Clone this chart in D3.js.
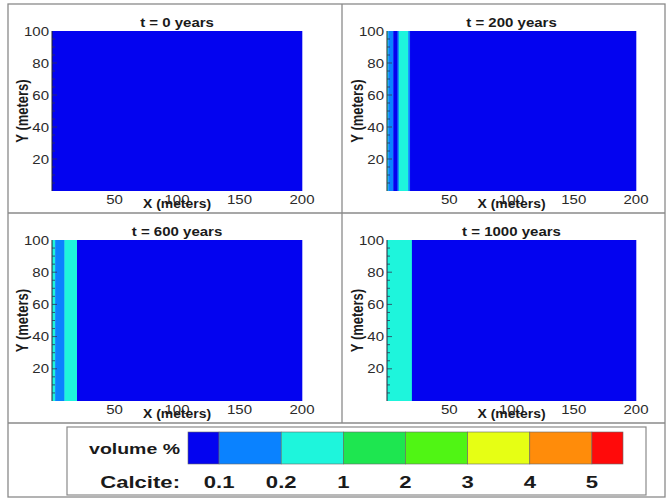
<!DOCTYPE html>
<html>
<head>
<meta charset="utf-8">
<script src="https://cdn.jsdelivr.net/npm/d3@7"></script>
<style>
  body { margin: 0; background: #fff; }
  text { font-family: "Liberation Sans", Arial, sans-serif; }
</style>
</head>
<body>
<svg width="667" height="499"></svg>
<script>
// panel titles and calcite zones along x (x0, x1 in meters, volume %)
const panelTitles = ["t = 0 years", "t = 200 years", "t = 600 years", "t = 1000 years"];
const zones0 = [[0, 200, 0.05]];
const zones200 = [[0, 1, 0.5], [1, 5, 0.15], [5, 8.5, 0.05], [8.5, 9.5, 0.15], [9.5, 17, 0.5], [17, 18.5, 0.15], [18.5, 200, 0.05]];
const zones600 = [[0, 2.5, 0.5], [2.5, 10, 0.15], [10, 20, 0.5], [20, 200, 0.05]];
const zones1000 = [[0, 20, 0.5], [20, 200, 0.05]];

const thresholds = [0.1, 0.2, 1, 2, 3, 4, 5];
const thresholdLabels = ["0.1", "0.2", "1", "2", "3", "4", "5"];
const levelColors = ["#0303f0", "#0a82ff", "#1ef5dc", "#1ee650", "#50f514", "#e6ff14", "#ff8c0a", "#ff0a0a"];

const xTicks = [50, 100, 150, 200];
const yTicks = [20, 40, 60, 80, 100];
const yMinor = d3.range(5, 100, 5);

const svg = d3.select("svg");
const color = d3.scaleThreshold().domain(thresholds).range(levelColors);

// frame lines
const frame = svg.append("g").attr("fill", "none").attr("stroke", "#8a8a8a").attr("stroke-width", 1.3);
frame.append("rect").attr("x", 8).attr("y", 4).attr("width", 657).attr("height", 493);
frame.append("line").attr("x1", 342).attr("x2", 342).attr("y1", 4).attr("y2", 423);
frame.append("line").attr("x1", 8).attr("x2", 665).attr("y1", 213).attr("y2", 213);
frame.append("line").attr("x1", 8).attr("x2", 665).attr("y1", 423).attr("y2", 423);

const panels = [
  { zones: zones0, left: 52, top: 31, w: 250, h: 160 },
  { zones: zones200, left: 387, top: 31, w: 249, h: 160 },
  { zones: zones600, left: 52, top: 240, w: 250, h: 161 },
  { zones: zones1000, left: 387, top: 240, w: 249, h: 161 }
];

const sx = 1.25; // glyphs in the picture are a little wide

panels.forEach((p, i) => {
  const g = svg.append("g").attr("transform", `translate(${p.left},${p.top})`);
  const x = d3.scaleLinear().domain([0, 200]).range([0, p.w]);
  const y = d3.scaleLinear().domain([0, 100]).range([p.h, 0]);

  g.selectAll("rect.zone")
    .data(p.zones)
    .enter()
    .append("rect")
    .attr("class", "zone")
    .attr("x", (d) => x(d[0]))
    .attr("width", (d) => x(d[1]) - x(d[0]) + 0.3)
    .attr("y", y(100))
    .attr("height", y(0) - y(100))
    .attr("fill", (d) => color(d[2]));

  // left axis with small inward ticks
  g.append("line").attr("x1", 0).attr("x2", 0).attr("y1", 0).attr("y2", p.h)
    .attr("stroke", "#223").attr("stroke-width", 1);
  g.selectAll("line.minor")
    .data(yMinor)
    .enter()
    .append("line")
    .attr("class", "minor")
    .attr("x1", 0)
    .attr("x2", (d) => (d % 20 === 0 ? 5 : 3))
    .attr("y1", (d) => y(d))
    .attr("y2", (d) => y(d))
    .attr("stroke", "#335")
    .attr("stroke-width", 0.8);

  g.selectAll("text.ytick")
    .data(yTicks)
    .enter()
    .append("text")
    .attr("class", "ytick")
    .attr("transform", (d) => `translate(-3,${y(d) + 4.5}) scale(${sx},1)`)
    .attr("text-anchor", "end")
    .attr("font-size", 12)
    .attr("fill", "#2a2a2a")
    .text((d) => d);

  g.selectAll("text.xtick")
    .data(xTicks)
    .enter()
    .append("text")
    .attr("class", "xtick")
    .attr("transform", (d) => `translate(${x(d)},${p.h + 12.5}) scale(${sx},1)`)
    .attr("text-anchor", "middle")
    .attr("font-size", 12)
    .attr("fill", "#2a2a2a")
    .text((d) => d);

  // the x label sits over the "100" tick label, as in the original figure
  g.append("text")
    .attr("transform", `translate(${p.w / 2},${p.h + 17}) scale(1.16,1)`)
    .attr("text-anchor", "middle")
    .attr("font-size", 12)
    .attr("font-weight", "bold")
    .attr("fill", "#1a1a1a")
    .text("X (meters)");

  g.append("text")
    .attr("transform", `translate(-24,${p.h / 2}) scale(1.2,1) rotate(-90)`)
    .attr("text-anchor", "middle")
    .attr("font-size", 13)
    .attr("font-weight", "bold")
    .attr("fill", "#1a1a1a")
    .text("Y (meters)");

  g.append("text")
    .attr("transform", `translate(${p.w / 2},-4) scale(1.2,1)`)
    .attr("text-anchor", "middle")
    .attr("font-size", 12.5)
    .attr("font-weight", "bold")
    .attr("fill", "#1a1a1a")
    .text(panelTitles[i]);
});

// legend
const leg = svg.append("g");
leg.append("rect").attr("x", 67).attr("y", 427).attr("width", 579).attr("height", 68)
  .attr("fill", "#fff").attr("stroke", "#8a8a8a").attr("stroke-width", 1.2);

const lx = d3.scaleLinear().domain([-0.5, thresholds.length - 0.5]).range([188, 623]);
const cells = levelColors.map((c, i) => ({
  c: c,
  x0: i === 0 ? -0.5 : i - 1,
  x1: i === levelColors.length - 1 ? thresholds.length - 0.5 : i
}));
leg.selectAll("rect.cell")
  .data(cells)
  .enter()
  .append("rect")
  .attr("class", "cell")
  .attr("x", (d) => lx(d.x0))
  .attr("width", (d) => lx(d.x1) - lx(d.x0))
  .attr("y", 432)
  .attr("height", 32)
  .attr("fill", (d) => d.c)
  .attr("stroke", "#666")
  .attr("stroke-width", 0.6);

const lsx = 1.3;
leg.append("text")
  .attr("transform", `translate(180,454) scale(${lsx},1)`)
  .attr("text-anchor", "end")
  .attr("font-size", 15)
  .attr("font-weight", "bold")
  .attr("fill", "#1a1a1a")
  .text("volume %");

leg.append("text")
  .attr("transform", `translate(180,488) scale(${lsx},1)`)
  .attr("text-anchor", "end")
  .attr("font-size", 17)
  .attr("font-weight", "bold")
  .attr("fill", "#1a1a1a")
  .text("Calcite:");

leg.selectAll("text.num")
  .data(thresholdLabels)
  .enter()
  .append("text")
  .attr("class", "num")
  .attr("transform", (d, i) => `translate(${lx(i)},488) scale(${lsx},1)`)
  .attr("text-anchor", "middle")
  .attr("font-size", 17)
  .attr("font-weight", "bold")
  .attr("fill", "#1a1a1a")
  .text((d) => d);
</script>
</body>
</html>
